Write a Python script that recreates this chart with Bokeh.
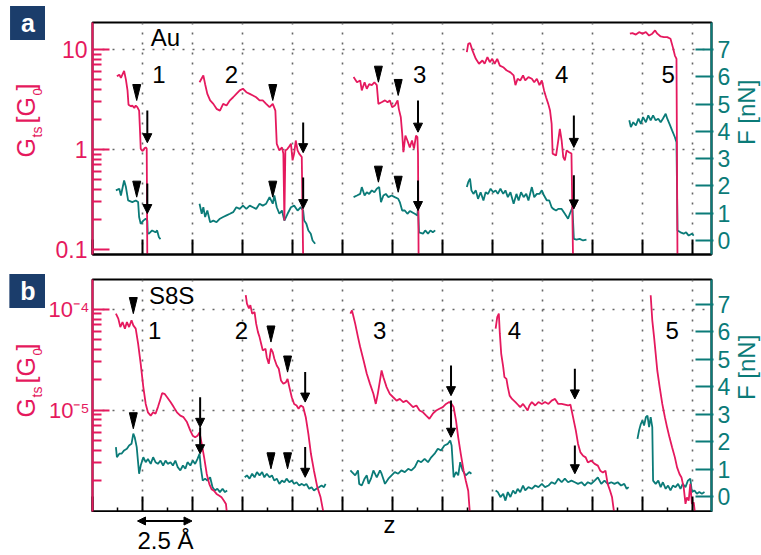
import math
from bokeh.plotting import figure
from bokeh.models import (Range1d, LinearAxis, LinearScale, FixedTicker, Label, Arrow,
                          NormalHead, NoOverlap)
from bokeh.layouts import column, row
from bokeh.embed import file_html
from bokeh.resources import INLINE

# ---------------- panel a : Au junctions ----------------
# z displacement [Å], conductance G [G0], force F [nN]
a1_xG = [1.22, 1.34, 1.42, 1.58, 1.67, 1.75, 1.80, 1.92, 1.99, 2.09, 2.16, 2.24, 2.33, 2.38, 2.41, 2.48, 2.54, 2.60, 2.66, 2.71, 2.74]
a1_G = [5.4, 5.6, 5.2, 6.1, 5.0, 3.9, 2.8, 2.7, 2.75, 2.6, 2.75, 2.65, 2.45, 1.45, 1.02, 0.97, 0.98, 1.03, 1.05, 1.02, 0.08]
a1_xF = [1.17, 1.34, 1.42, 1.58, 1.67, 1.78, 1.99, 2.16, 2.28, 2.33, 2.41, 2.54, 2.66, 2.74, 2.76, 2.82, 2.98, 3.15, 3.23, 3.32, 3.40]
a1_F = [1.84, 1.90, 1.65, 2.20, 1.96, 1.47, 1.41, 1.47, 1.41, 0.86, 0.61, 0.73, 0.80, 0.73, 0.28, 0.25, 0.37, 0.30, 0.37, 0.12, 0.05]

a2_xG = [5.35, 5.54, 5.63, 5.74, 5.88, 6.04, 6.20, 6.37, 6.53, 6.70, 6.87, 7.03, 7.19, 7.36, 7.52, 7.69, 7.86, 8.02, 8.18, 8.35, 8.51, 8.68, 8.85, 9.01, 9.14, 9.21, 9.34, 9.47, 9.54, 9.59, 9.64, 9.72, 9.80, 9.92, 10.00, 10.08, 10.16, 10.25, 10.33, 10.46, 10.53]
a2_G = [4.7, 5.5, 4.5, 3.6, 3.1, 2.86, 2.55, 2.45, 2.86, 2.75, 3.1, 3.33, 3.6, 3.9, 4.05, 3.74, 3.6, 3.47, 3.33, 3.1, 3.1, 2.86, 2.65, 2.86, 2.45, 1.14, 0.98, 1.05, 0.91, 0.195, 0.98, 1.0, 1.05, 1.14, 0.78, 0.91, 1.23, 0.98, 0.91, 0.84, 0.08]
a2_xF = [5.35, 5.46, 5.54, 5.63, 5.74, 5.88, 6.04, 6.20, 6.37, 6.53, 6.70, 6.87, 7.03, 7.19, 7.36, 7.52, 7.69, 7.86, 8.02, 8.18, 8.35, 8.51, 8.68, 8.85, 9.01, 9.09, 9.21, 9.34, 9.47, 9.59, 9.75, 9.92, 10.08, 10.25, 10.41, 10.53, 10.58, 10.69, 10.79, 10.91, 11.00, 11.13]
a2_F = [1.35, 0.98, 1.22, 0.86, 1.10, 0.67, 0.73, 0.67, 0.80, 0.86, 0.92, 0.98, 1.04, 1.22, 1.16, 1.28, 1.16, 1.28, 1.22, 1.16, 1.35, 1.28, 1.35, 1.59, 1.35, 1.65, 1.22, 0.98, 1.10, 0.73, 0.98, 1.22, 1.28, 1.10, 1.22, 1.10, 0.73, 0.61, 0.37, 0.25, 0.0, -0.12]

a3_xG = [13.05, 13.22, 13.38, 13.46, 13.60, 13.71, 13.83, 13.96, 14.09, 14.21, 14.29, 14.45, 14.62, 14.75, 14.86, 14.98, 15.11, 15.25, 15.31, 15.41, 15.48, 15.54, 15.64, 15.74, 15.86, 15.97, 16.07, 16.17, 16.24, 16.27, 16.30]
a3_G = [5.3, 4.7, 4.9, 3.9, 4.7, 4.05, 4.5, 4.4, 4.7, 4.4, 2.86, 2.97, 3.1, 2.97, 3.1, 2.65, 2.75, 3.1, 2.55, 2.1, 1.44, 0.94, 1.38, 1.23, 1.05, 1.23, 1.02, 1.38, 1.33, 0.91, 0.08]
a3_xF = [13.05, 13.22, 13.38, 13.46, 13.60, 13.71, 13.83, 13.96, 14.09, 14.21, 14.33, 14.42, 14.54, 14.66, 14.79, 14.95, 15.11, 15.28, 15.36, 15.48, 15.61, 15.74, 15.86, 15.97, 16.11, 16.24, 16.27, 16.32, 16.52, 16.63, 16.77, 16.89, 17.01, 17.13]
a3_F = [1.59, 1.65, 1.71, 1.96, 1.65, 1.77, 1.71, 1.84, 1.77, 1.90, 1.96, 1.41, 1.65, 1.71, 1.59, 1.65, 1.59, 1.53, 1.41, 1.10, 1.10, 0.98, 1.08, 1.04, 0.98, 0.92, 1.20, 0.30, 0.25, 0.37, 0.25, 0.37, 0.30, 0.37]

a4_xG = [18.71, 18.78, 18.87, 18.99, 19.16, 19.32, 19.49, 19.60, 19.74, 19.86, 19.98, 20.10, 20.23, 20.36, 20.53, 20.69, 20.89, 21.05, 21.14, 21.25, 21.38, 21.52, 21.63, 21.79, 21.96, 22.08, 22.21, 22.34, 22.46, 22.57, 22.67, 22.78, 22.87, 22.95, 23.00, 23.17, 23.28, 23.36, 23.45, 23.53, 23.61, 23.70, 23.82, 23.94, 24.02]
a4_G = [9.4, 11.4, 11.6, 9.8, 8.07, 7.2, 7.76, 7.2, 8.4, 7.46, 8.07, 7.2, 8.07, 6.9, 6.65, 6.2, 5.9, 5.5, 4.4, 5.1, 4.9, 5.5, 4.9, 5.3, 5.1, 4.7, 5.1, 4.4, 4.9, 3.9, 3.33, 2.86, 2.45, 1.8, 0.91, 0.87, 1.23, 1.61, 1.23, 0.84, 0.78, 0.98, 0.94, 0.91, 0.08]
a4_xF = [18.71, 18.78, 18.87, 18.94, 19.04, 19.16, 19.27, 19.40, 19.54, 19.65, 19.77, 19.90, 20.03, 20.15, 20.26, 20.39, 20.53, 20.64, 20.76, 20.89, 21.05, 21.19, 21.30, 21.42, 21.55, 21.68, 21.79, 21.96, 22.08, 22.21, 22.34, 22.46, 22.57, 22.71, 22.83, 22.95, 23.03, 23.17, 23.28, 23.45, 23.61, 23.77, 23.86, 23.99, 24.06, 24.19, 24.35, 24.52, 24.69]
a4_F = [1.96, 2.14, 2.27, 1.84, 1.71, 1.84, 1.53, 1.77, 1.47, 1.77, 1.71, 1.90, 1.77, 1.84, 1.71, 1.90, 1.71, 1.84, 1.59, 1.77, 1.35, 1.71, 1.47, 1.77, 1.59, 1.71, 1.47, 1.96, 1.59, 1.71, 1.71, 1.84, 1.65, 1.47, 1.47, 1.22, 1.16, 1.10, 1.16, 1.16, 0.98, 0.80, 0.98, 1.22, 0.06, 0.03, 0.06, 0.0, 0.03]

a5_xG = [26.86, 26.99, 27.16, 27.32, 27.49, 27.66, 27.82, 27.98, 28.12, 28.23, 28.40, 28.56, 28.73, 28.89, 29.01, 29.11, 29.19, 29.24]
a5_G = [14.4, 14.6, 14.1, 14.9, 14.4, 14.9, 13.8, 14.4, 15.5, 14.4, 13.5, 13.3, 13.3, 12.8, 10.5, 8.7, 8.07, 0.08]
a5_xF = [26.83, 26.91, 27.03, 27.16, 27.29, 27.41, 27.52, 27.66, 27.78, 27.90, 28.02, 28.15, 28.28, 28.40, 28.51, 28.65, 28.73, 28.84, 28.97, 29.11, 29.19, 29.24, 29.39, 29.55, 29.67, 29.80, 29.96, 30.05]
a5_F = [4.41, 4.16, 4.34, 4.22, 4.47, 4.28, 4.53, 4.34, 4.59, 4.41, 4.59, 4.41, 4.47, 4.34, 4.47, 4.65, 4.47, 4.28, 4.04, 3.79, 3.61, 0.37, 0.30, 0.25, 0.30, 0.18, 0.25, 0.18]

# ---------------- panel b : S8S junctions ----------------
b1_xG = [1.17, 1.29, 1.39, 1.50, 1.62, 1.72, 1.83, 1.95, 2.04, 2.16, 2.28, 2.41, 2.54, 2.66, 2.77, 2.91, 3.03, 3.15, 3.27, 3.37, 3.48, 3.60, 3.73, 3.90, 4.06, 4.22, 4.39, 4.55, 4.72, 4.89, 5.01, 5.13, 5.25, 5.35, 5.46, 5.58, 5.71, 5.84, 5.95, 6.07, 6.20, 6.34, 6.45, 6.57, 6.67, 6.73]
b1_G = [9.06e-5, 8.08e-5, 6.67e-5, 7.48e-5, 6.43e-5, 7.48e-5, 6.67e-5, 7.78e-5, 6.93e-5, 6.43e-5, 4.56e-5, 2.88e-5, 1.69e-5, 1.15e-5, 9.5e-6, 8.8e-6, 9.5e-6, 9.2e-6, 1.07e-5, 1.24e-5, 1.47e-5, 1.45e-5, 1.34e-5, 1.20e-5, 1.07e-5, 9.5e-6, 8.8e-6, 8.5e-6, 7.6e-6, 6.25e-6, 5.57e-6, 5.36e-6, 5.57e-6, 6.0e-6, 4.6e-6, 3.39e-6, 2.32e-6, 1.84e-6, 1.64e-6, 1.58e-6, 1.47e-6, 1.41e-6, 1.36e-6, 1.26e-6, 1.17e-6, 9e-7]
b1_xF = [1.17, 1.22, 1.34, 1.45, 1.58, 1.72, 1.83, 1.95, 2.04, 2.11, 2.21, 2.33, 2.41, 2.54, 2.66, 2.77, 2.91, 3.03, 3.15, 3.27, 3.40, 3.53, 3.65, 3.76, 3.90, 4.02, 4.14, 4.26, 4.39, 4.52, 4.64, 4.75, 4.89, 5.01, 5.13, 5.25, 5.35, 5.41, 5.51, 5.63, 5.74, 5.88, 6.00, 6.12, 6.24, 6.37, 6.50, 6.62, 6.73]
b1_F = [1.80, 1.43, 1.56, 1.56, 1.68, 1.74, 1.86, 1.92, 2.29, 2.16, 1.80, 0.83, 1.13, 1.43, 1.25, 1.37, 1.19, 1.43, 1.25, 1.19, 1.31, 1.13, 1.31, 1.19, 1.25, 1.13, 1.31, 1.07, 0.95, 1.13, 1.01, 1.25, 1.13, 1.31, 1.19, 1.37, 1.56, 1.07, 0.58, 0.65, 0.58, 0.70, 0.34, 0.22, 0.28, 0.16, 0.28, 0.16, 0.22]

b2_xG = [7.66, 7.72, 7.82, 7.89, 7.98, 8.10, 8.18, 8.27, 8.35, 8.43, 8.51, 8.65, 8.71, 8.81, 8.92, 9.01, 9.09, 9.21, 9.31, 9.42, 9.54, 9.67, 9.75, 9.84, 9.96, 10.08, 10.20, 10.30, 10.41, 10.53, 10.66, 10.79, 10.92, 11.07, 11.24, 11.40, 11.57]
b2_G = [1.38e-4, 1.14e-4, 1.02e-4, 1.10e-4, 9.06e-5, 9.4e-5, 7.21e-5, 5.94e-5, 5.30e-5, 4.56e-5, 3.91e-5, 4.06e-5, 3.35e-5, 2.88e-5, 4.06e-5, 3.76e-5, 3.23e-5, 2.77e-5, 2.57e-5, 1.97e-5, 1.82e-5, 1.89e-5, 2.04e-5, 1.69e-5, 1.34e-5, 1.15e-5, 1.11e-5, 1.03e-5, 1.11e-5, 1.07e-5, 8.5e-6, 5.79e-6, 3.66e-6, 2.50e-6, 1.71e-6, 1.36e-6, 9e-7]
b2_xF = [7.61, 7.72, 7.85, 7.98, 8.10, 8.22, 8.35, 8.48, 8.59, 8.71, 8.85, 8.97, 9.09, 9.21, 9.34, 9.47, 9.59, 9.70, 9.84, 9.96, 10.08, 10.20, 10.33, 10.46, 10.58, 10.69, 10.83, 10.95, 11.07, 11.19, 11.32, 11.45, 11.57, 11.65]
b2_F = [0.70, 0.77, 0.65, 0.83, 0.70, 0.89, 0.77, 0.89, 0.70, 0.83, 0.70, 0.77, 0.58, 0.65, 0.46, 0.58, 0.52, 0.65, 0.52, 0.58, 0.46, 0.52, 0.40, 0.46, 0.40, 0.46, 0.28, 0.34, 0.22, 0.28, 0.34, 0.40, 0.34, 0.46]

b3_xG = [12.89, 12.97, 13.05, 13.13, 13.27, 13.38, 13.55, 13.71, 13.87, 14.04, 14.16, 14.26, 14.37, 14.45, 14.54, 14.70, 14.86, 15.03, 15.20, 15.36, 15.53, 15.69, 15.86, 16.02, 16.19, 16.35, 16.52, 16.68, 16.84, 17.01, 17.18, 17.34, 17.51, 17.67, 17.83, 17.95, 18.05, 18.17, 18.28, 18.41, 18.55, 18.66, 18.78, 18.87]
b3_G = [9.06e-5, 9.77e-5, 8.38e-5, 7.21e-5, 5.30e-5, 4.22e-5, 3.11e-5, 2.29e-5, 1.82e-5, 1.45e-5, 1.15e-5, 1.45e-5, 1.97e-5, 2.47e-5, 2.12e-5, 1.69e-5, 1.45e-5, 1.34e-5, 1.24e-5, 1.29e-5, 1.20e-5, 1.24e-5, 1.15e-5, 1.07e-5, 1.11e-5, 9.9e-6, 9.5e-6, 8.8e-6, 8.2e-6, 9.2e-6, 9.9e-6, 1.03e-5, 1.07e-5, 1.15e-5, 1.20e-5, 1.15e-5, 1.07e-5, 7.87e-6, 5.36e-6, 3.66e-6, 2.50e-6, 1.99e-6, 1.58e-6, 9e-7]
b3_xF = [12.89, 12.97, 13.13, 13.27, 13.33, 13.46, 13.60, 13.71, 13.80, 13.92, 14.04, 14.21, 14.37, 14.45, 14.62, 14.79, 14.95, 15.11, 15.28, 15.44, 15.61, 15.78, 15.94, 16.11, 16.27, 16.43, 16.60, 16.77, 16.93, 17.10, 17.26, 17.42, 17.59, 17.76, 17.88, 17.95, 18.05, 18.17, 18.28, 18.38, 18.50, 18.66, 18.83, 18.94]
b3_F = [0.95, 0.89, 0.77, 0.95, 0.46, 0.40, 0.65, 0.77, 0.46, 0.65, 0.95, 0.70, 0.95, 0.83, 0.46, 0.65, 0.77, 0.89, 0.83, 0.95, 0.89, 1.01, 0.95, 1.07, 1.31, 1.25, 1.37, 1.25, 1.43, 1.56, 1.74, 1.68, 1.86, 1.92, 2.04, 1.86, 0.70, 0.89, 0.77, 1.25, 0.95, 0.77, 0.89, 0.83]

b4_xG = [20.15, 20.23, 20.31, 20.36, 20.43, 20.53, 20.59, 20.69, 20.76, 20.85, 20.97, 21.14, 21.30, 21.38, 21.52, 21.63, 21.75, 21.84, 21.96, 22.13, 22.29, 22.46, 22.62, 22.79, 22.95, 23.12, 23.28, 23.45, 23.61, 23.77, 23.89, 24.02, 24.16, 24.27, 24.39, 24.52, 24.65, 24.76, 24.93, 25.10, 25.26, 25.38, 25.51, 25.64, 25.75, 25.87, 25.97, 26.09]
b4_G = [6.43e-5, 8.38e-5, 9.06e-5, 5.73e-5, 3.62e-5, 2.67e-5, 2.12e-5, 2.04e-5, 1.69e-5, 1.39e-5, 1.29e-5, 1.20e-5, 1.11e-5, 1.07e-5, 1.15e-5, 1.07e-5, 9.9e-6, 1.11e-5, 1.20e-5, 1.11e-5, 1.20e-5, 1.15e-5, 1.20e-5, 1.15e-5, 1.24e-5, 1.29e-5, 1.15e-5, 1.15e-5, 1.13e-5, 1.11e-5, 1.13e-5, 8.5e-6, 6.25e-6, 4.61e-6, 3.80e-6, 3.52e-6, 3.39e-6, 3.02e-6, 3.15e-6, 2.92e-6, 2.81e-6, 2.50e-6, 2.40e-6, 2.50e-6, 1.85e-6, 1.58e-6, 1.36e-6, 9e-7]
b4_xF = [20.15, 20.26, 20.39, 20.53, 20.64, 20.76, 20.89, 21.02, 21.14, 21.25, 21.38, 21.52, 21.63, 21.79, 21.96, 22.13, 22.29, 22.46, 22.62, 22.79, 22.95, 23.12, 23.28, 23.45, 23.61, 23.77, 23.94, 24.11, 24.27, 24.44, 24.60, 24.76, 24.93, 25.10, 25.26, 25.43, 25.59, 25.76, 25.93, 26.09, 26.25, 26.42, 26.58, 26.70, 26.80]
b4_F = [0.22, 0.16, -0.02, 0.10, -0.15, 0.16, -0.02, 0.22, 0.10, 0.28, 0.16, 0.40, 0.22, 0.34, 0.28, 0.40, 0.34, 0.46, 0.34, 0.40, 0.52, 0.46, 0.65, 0.52, 0.65, 0.52, 0.58, 0.52, 0.46, 0.52, 0.40, 0.52, 0.46, 0.58, 0.70, 0.46, 0.58, 0.46, 0.52, 0.46, 0.52, 0.40, 0.46, 0.28, 0.34]

b5_xG = [27.90, 27.98, 28.07, 28.15, 28.23, 28.35, 28.48, 28.61, 28.72, 28.84, 28.97, 29.11, 29.22, 29.34, 29.44, 29.55, 29.64, 29.71, 29.80, 29.88, 29.96, 30.05, 30.13]
b5_G = [1.38e-4, 7.78e-5, 5.30e-5, 3.62e-5, 2.47e-5, 1.69e-5, 1.15e-5, 8.5e-6, 6.74e-6, 5.36e-6, 4.27e-6, 3.39e-6, 2.70e-6, 2.32e-6, 2.14e-6, 1.71e-6, 1.17e-6, 1.36e-6, 1.26e-6, 1.85e-6, 1.17e-6, 1.21e-6, 9e-7]
b5_xF = [27.24, 27.32, 27.41, 27.49, 27.57, 27.66, 27.74, 27.82, 27.90, 27.98, 28.02, 28.15, 28.28, 28.40, 28.51, 28.65, 28.77, 28.89, 29.01, 29.14, 29.27, 29.39, 29.50, 29.64, 29.76, 29.88, 29.96, 30.09, 30.21, 30.33, 30.46, 30.59]
b5_F = [2.10, 2.41, 2.65, 2.77, 2.59, 2.89, 2.95, 2.53, 2.89, 2.53, 0.58, 0.46, 0.58, 0.34, 0.52, 0.28, 0.40, 0.22, 0.40, 0.34, 0.46, 0.28, 0.46, 0.34, 0.58, 0.65, 0.16, 0.22, 0.10, 0.16, 0.10, 0.16]

# markers: triangles (tip position) and arrows (x, tail, tip)
a_triG_x = [2.21, 9.01, 14.29, 15.28]
a_triG_y = [3.09, 3.09, 4.71, 3.47]
a_triF_x = [2.21, 9.01, 14.29, 15.28]
a_triF_y = [1.59, 1.59, 2.14, 1.77]
a_arrG_x = [2.74, 10.53, 16.27, 24.06]
a_arrG_tail = [2.45, 1.86, 3.09, 2.19]
a_arrG_tip = [1.17, 0.93, 1.49, 1.05]
a_arrF_x = [2.74, 10.53, 16.27, 24.06]
a_arrF_tail = [2.09, 2.31, 2.20, 2.39]
a_arrF_tip = [0.99, 1.17, 1.10, 1.16]

b_triG_x = [2.04, 8.92, 9.75]
b_triG_y = [9.06e-5, 4.73e-5, 2.38e-5]
b_triF_x = [2.04, 8.92, 9.75]
b_triF_y = [2.47, 1.01, 1.01]
b_arrG_x = [5.38, 10.63, 17.92, 24.11]
b_arrG_tail = [1.34e-5, 2.38e-5, 2.77e-5, 2.57e-5]
b_arrG_tip = [6.74e-6, 1.20e-5, 1.39e-5, 1.29e-5]
b_arrF_x = [5.38, 10.63, 17.92, 24.11]
b_arrF_tail = [2.52, 1.80, 3.50, 1.86]
b_arrF_tip = [1.56, 0.70, 2.16, 0.83]

trace_numbers = ["1", "2", "3", "4", "5"]

PINK = "#E5195E"
TEAL = "#0B7B78"
NAVY = "#1B3D6B"
GRID = "#666666"
FONT = "Liberation Sans"

X0, X1 = 0.0, 30.94          # Å; frame spans 88..713 px
PXA = 20.2                    # px per Å
LW = 45                       # left text strip width
RW = 28                       # right text strip width
MW = 761 - LW - RW            # main plots width
BASE_SHIFT = 0.4              # Bokeh places the glyph baseline ~0.4 em past the anchor


def xd(px):
    return X0 + (px - 88) / PXA


def make_panel(height, top, bottom, ylog, frange, major, minor, overrides, gridy, xminor,
               tick_font, standoff):
    p = figure(width=MW, height=height, x_range=Range1d(X0, X1),
               y_range=Range1d(10 ** ylog[0], 10 ** ylog[1]), y_axis_type="log",
               output_backend="svg", toolbar_location=None, title=None,
               min_border_left=88 - LW, min_border_right=MW + LW - 713, min_border_top=top,
               min_border_bottom=bottom, background_fill_color="white",
               border_fill_color="white")
    p.outline_line_color = "black"
    p.outline_line_width = 2
    p.extra_y_ranges = {"F": Range1d(*frange)}
    p.extra_y_scales = {"F": LinearScale()}

    xa = p.xaxis[0]
    xa.ticker = FixedTicker(ticks=[2.5 * i for i in range(13)], minor_ticks=xminor)
    xa.major_label_text_font_size = "0px"
    xa.major_label_overrides = {2.5 * i: "" for i in range(13)}
    xa.major_label_policy = NoOverlap(min_distance=100000)
    xa.major_label_standoff = 0
    xa.major_tick_in = 15
    xa.major_tick_out = 0
    xa.minor_tick_in = 4
    xa.minor_tick_out = 0
    xa.axis_line_color = "black"
    xa.axis_line_width = 2
    xa.major_tick_line_width = 2
    xa.minor_tick_line_width = 1.5

    ya = p.yaxis[0]
    ya.ticker = FixedTicker(ticks=major, minor_ticks=minor)
    ya.major_label_overrides = overrides
    ya.axis_line_color = PINK
    ya.axis_line_width = 2
    ya.major_tick_line_color = PINK
    ya.minor_tick_line_color = PINK
    ya.major_tick_line_width = 2
    ya.minor_tick_line_width = 2
    ya.major_tick_in = 17
    ya.major_tick_out = 0
    ya.minor_tick_in = 9
    ya.minor_tick_out = 0
    ya.major_label_text_color = PINK
    ya.major_label_text_font = FONT
    ya.major_label_text_font_size = tick_font
    ya.major_label_standoff = standoff

    ra = LinearAxis(y_range_name="F", ticker=FixedTicker(ticks=list(range(8))))
    ra.axis_line_color = TEAL
    ra.axis_line_width = 2
    ra.major_tick_line_color = TEAL
    ra.major_tick_line_width = 2
    ra.major_tick_in = 16
    ra.major_tick_out = 2
    ra.minor_tick_line_color = None
    ra.major_label_text_color = TEAL
    ra.major_label_text_font = FONT
    ra.major_label_text_font_size = "23px"
    ra.major_label_standoff = 4
    p.add_layout(ra, "right")

    p.xgrid.ticker = FixedTicker(ticks=[2.5 * i for i in range(1, 13)])
    p.ygrid.ticker = FixedTicker(ticks=gridy)
    for g in (p.xgrid[0], p.ygrid[0]):
        g.grid_line_color = GRID
        g.grid_line_dash = "2 8"
        g.grid_line_width = 1.6
    return p


def make_strip(x0, x1, y_top, y_bot):
    """Blank figure whose frame is the whole canvas; coordinates are page pixels."""
    s = figure(width=x1 - x0, height=y_bot - y_top, x_range=Range1d(x0, x1),
               y_range=Range1d(y_bot, y_top), output_backend="svg",
               toolbar_location=None, title=None, x_axis_location=None,
               y_axis_location=None, min_border=0, background_fill_color="white",
               border_fill_color="white")
    s.outline_line_color = None
    s.grid.visible = False
    return s


def add_traces(p, traces):
    for xF, F, xG, G in traces:
        p.line(xF, F, y_range_name="F", line_color=TEAL, line_width=1.8)
    for xF, F, xG, G in traces:
        p.line(xG, G, line_color=PINK, line_width=1.8)


def add_marks(p, triG, triF, arrG, arrF, gfac, fh):
    hw = 4.0 / PXA
    p.patches([[x - hw, x + hw, x] for x in triG[0]],
              [[y * gfac, y * gfac, y] for y in triG[1]],
              fill_color="black", line_color="black")
    p.patches([[x - hw, x + hw, x] for x in triF[0]],
              [[y + fh, y + fh, y] for y in triF[1]],
              fill_color="black", line_color="black", y_range_name="F")
    for x, t0, t1 in zip(*arrG):
        p.add_layout(Arrow(end=NormalHead(size=9, fill_color="black", line_color="black"),
                           x_start=x, x_end=x, y_start=t0, y_end=t1,
                           line_color="black", line_width=2))
    for x, t0, t1 in zip(*arrF):
        p.add_layout(Arrow(end=NormalHead(size=9, fill_color="black", line_color="black"),
                           x_start=x, x_end=x, y_start=t0, y_end=t1, y_range_name="F",
                           line_color="black", line_width=2))


def put(p, text, px, py, fs, color="black", align="center", rot=False, bold=False,
        conv=None, baseline="alphabetic", **kw):
    """Place a text with its glyph baseline at page pixel (px, py)."""
    if baseline == "alphabetic":
        if rot:
            px -= BASE_SHIFT * fs
        else:
            py -= BASE_SHIFT * fs
    x, y = (px, py) if conv is None else (conv[0](px), conv[1](py))
    p.add_layout(Label(x=x, y=y, text=text, text_font=FONT, text_font_size=f"{fs}px",
                       text_color=color, text_align=align, text_baseline=baseline,
                       angle=math.pi / 2 if rot else 0.0,
                       text_font_style="bold" if bold else "normal", **kw))


def g_title(s, gy):
    put(s, "G", 35, gy, 25, PINK, "left", True)
    put(s, "ts", 42, gy - 20, 14, PINK, "left", True)
    put(s, "[G", 35, gy - 34, 25, PINK, "left", True)
    put(s, "0", 42, gy - 62, 13, PINK, "left", True)
    put(s, "]", 35, gy - 67, 25, PINK, "left", True)


def panel_letter(s, letter, cy):
    put(s, letter, 27.5, cy, 25, "white", "center", False, True, baseline="middle",
        background_fill_color=NAVY, padding=dict(left=11, right=11, top=3, bottom=3))


# ---------- panel a ----------
A_LOG = (-1.05, 1.27)


def yd_a(py):
    return 10 ** (A_LOG[1] - (py - 22) * (A_LOG[1] - A_LOG[0]) / 232)


p1 = make_panel(266, 22, 12, A_LOG, (-0.514, 8.0), [0.1, 1, 10],
                [m * 10.0 ** e for e in (-1, 0) for m in range(2, 10)],
                {0.1: "0.1", 1: "1", 10: "10"}, [1, 10], [], "23px", 5)
add_traces(p1, [(a1_xF, a1_F, a1_xG, a1_G), (a2_xF, a2_F, a2_xG, a2_G),
                (a3_xF, a3_F, a3_xG, a3_G), (a4_xF, a4_F, a4_xG, a4_G),
                (a5_xF, a5_F, a5_xG, a5_G)])
add_marks(p1, (a_triG_x, a_triG_y), (a_triF_x, a_triF_y),
          (a_arrG_x, a_arrG_tail, a_arrG_tip), (a_arrF_x, a_arrF_tail, a_arrF_tip),
          10 ** 0.16, 16 / 27.25)
for t, px in zip(trace_numbers, [155, 228.3, 418.3, 561.7, 669.3]):
    put(p1, t, px, 83.3, 24, conv=(xd, yd_a))
put(p1, "Au", 146.7, 46.7, 24, align="left", conv=(xd, yd_a))

# ---------- panel b ----------
B_LOG = (-6.007, -3.704)


def yd_b(py):
    return 10 ** (B_LOG[1] - (py - 279) * (B_LOG[1] - B_LOG[0]) / 232)


p2 = make_panel(246, 13, 1, B_LOG, (-0.547, 7.91), [1e-5, 1e-4],
                [m * 10.0 ** e for e in (-6, -5) for m in range(2, 10)],
                {1e-5: "10⁻⁵", 1e-4: "10⁻⁴"}, [1e-5, 1e-4],
                [1.25 + 2.5 * i for i in range(13)], "22px", 3)
add_traces(p2, [(b1_xF, b1_F, b1_xG, b1_G), (b2_xF, b2_F, b2_xG, b2_G),
                (b3_xF, b3_F, b3_xG, b3_G), (b4_xF, b4_F, b4_xG, b4_G),
                (b5_xF, b5_F, b5_xG, b5_G)])
add_marks(p2, (b_triG_x, b_triG_y), (b_triF_x, b_triF_y),
          (b_arrG_x, b_arrG_tail, b_arrG_tip), (b_arrF_x, b_arrF_tail, b_arrF_tip),
          10 ** 0.16, 16 / 27.43)
for t, px in zip(trace_numbers, [150.7, 238.3, 378, 514, 673.3]):
    put(p2, t, px, 340, 24, conv=(xd, yd_b))
put(p2, "S8S", 145, 304.3, 24, align="left", conv=(xd, yd_b))

# ---------- side strips (texts outside the plot frames) ----------
TOP_H = 266 + 246
left = make_strip(0, LW, 0, TOP_H)
g_title(left, 157)
g_title(left, 417)
panel_letter(left, "a", 22.5)
panel_letter(left, "b", 290.5)

right = make_strip(LW + MW, 761, 0, TOP_H)
put(right, "F [nN]", 755.5, 144.5, 24, TEAL, "left", True)
put(right, "F [nN]", 755.5, 399.5, 24, TEAL, "left", True)

bot = make_strip(0, 761, TOP_H, 555)
put(bot, "z", 389, 534, 24)
put(bot, "2.5 Å", 165, 549.5, 24)
bot.add_layout(Arrow(start=NormalHead(size=8, fill_color="black", line_color="black"),
                     end=NormalHead(size=8, fill_color="black", line_color="black"),
                     x_start=137, x_end=191.5, y_start=520.5, y_end=520.5,
                     line_color="black", line_width=2))

layout = column(row(left, column(p1, p2), right), bot)
open("out.html", "w").write(file_html(layout, INLINE))
